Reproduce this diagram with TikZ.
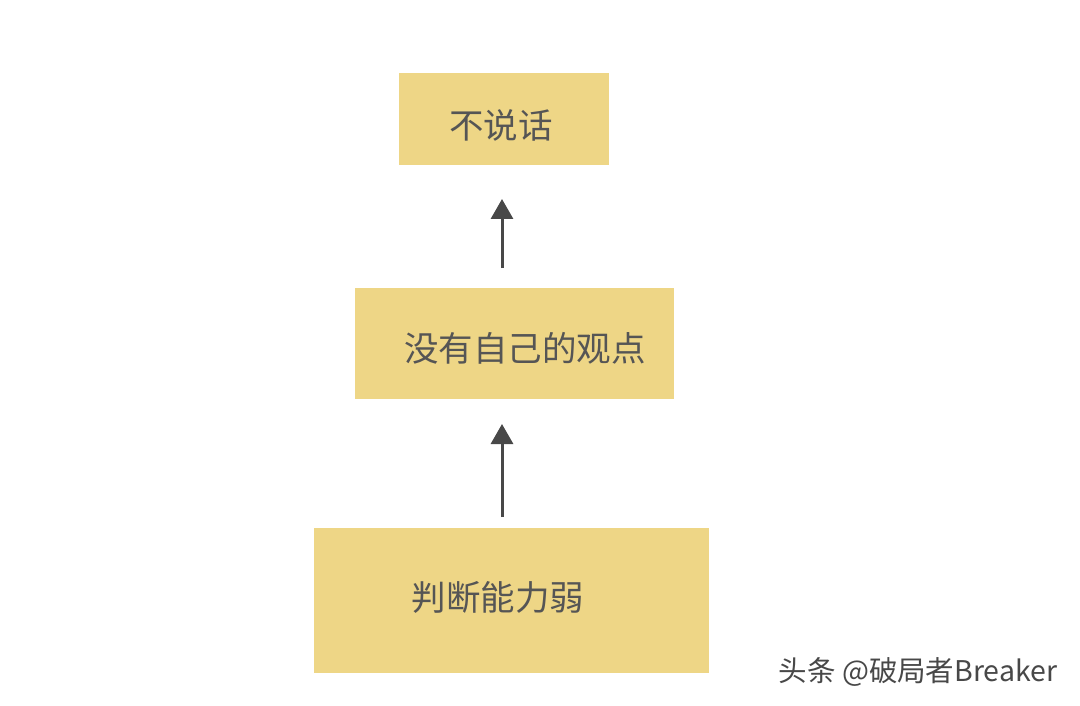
\documentclass[tikz,border=0pt]{standalone}
\usepackage{fontspec}
\newfontfamily\cjk{Noto Sans CJK SC}
\usetikzlibrary{arrows.meta}
\definecolor{boxc}{HTML}{EED686}
\definecolor{txtc}{HTML}{555555}
\definecolor{arrc}{HTML}{484848}
\tikzset{
  box/.style={fill=boxc,draw=none,inner sep=0pt},
  lbl/.style={font=\cjk\fontsize{34.5}{34.5}\selectfont,text=txtc},
  conn/.style={draw=arrc,line width=3pt,-{Triangle[length=20pt,width=22pt]}}
}
\begin{document}
\begin{tikzpicture}[x=1pt,y=-1pt]
\useasboundingbox (0,0) rectangle (1080,706);
\fill[white] (0,0) rectangle (1080,706);
\node[box,minimum width=210pt,minimum height=92pt] (b1) at (504,119) {};
\node[box,minimum width=319pt,minimum height=111pt] (b2) at (514.5,343.5) {};
\node[box,minimum width=395pt,minimum height=145pt] (b3) at (511.5,600.5) {};
\node[lbl] (t1) at (501,125) {不说话};
\node[lbl] (t2) at (525,348) {没有自己的观点};
\node[lbl] (t3) at (498,597) {判断能力弱};
\coordinate (a1s) at (502,268);
\coordinate (a1e) at (502,199);
\coordinate (a2s) at (502,517);
\coordinate (a2e) at (502,424);
\draw[conn] (a1s) -- (a1e);
\draw[conn] (a2s) -- (a2e);
\node[font=\cjk\fontsize{28.5}{28.5}\selectfont,text=arrc] (wm) at (918,672) {头条 @破局者Breaker};
\end{tikzpicture}
\end{document}
